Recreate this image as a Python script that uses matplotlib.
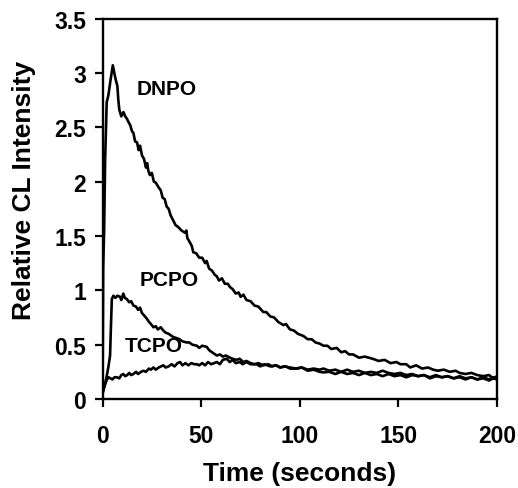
import numpy as np
import matplotlib
matplotlib.use("Agg")
import matplotlib.pyplot as plt

plt.rcParams['font.family'] = ['Liberation Sans', 'DejaVu Sans']
plt.rcParams['font.weight'] = 'bold'

# DNPO curve (time in s, relative CL intensity)
dnpo_t = [0, 0.3, 0.8, 1.3, 2.1, 3, 4, 5.2, 6.5, 7.5, 8, 8.5, 9.5, 10.6, 11.5, 12.3, 13.1, 14, 15, 15.6,
          16.5, 17.5, 18.3, 19, 20, 21, 22, 22.6, 23.2, 24, 25, 26, 27, 28.3, 29.5, 30.5, 31.5, 32.5, 33.5, 34.5,
          35.9, 37, 38.5, 40, 41.8, 42.5, 43, 44, 45.2, 46, 47.5, 49, 50.5, 52, 52.8, 54, 55.5, 57, 57.9, 59,
          60.5, 62, 63.5, 64.6, 66, 67.5, 69, 70, 71.4, 73, 75, 77, 79, 81.5, 83, 85, 87, 89, 91.7, 93,
          95, 97, 99, 101.8, 104, 106, 108, 110, 112, 114, 116, 118.7, 121, 123, 125, 127, 130, 133, 137, 140,
          143, 146, 149, 151, 154, 156, 159, 162, 165, 167.6, 170, 173, 176, 179, 181, 184, 187, 190, 193, 196,
          198, 200]
dnpo_y = [0.05, 1.2, 1.55, 2.2, 2.73, 2.8, 2.93, 3.07, 2.95, 2.88, 2.75, 2.66, 2.6, 2.64, 2.6, 2.58, 2.55, 2.52, 2.46, 2.45,
          2.37, 2.36, 2.29, 2.33, 2.24, 2.21, 2.13, 2.17, 2.1, 2.06, 2.08, 2.0, 1.99, 1.95, 1.92, 1.85, 1.84, 1.77, 1.75, 1.69,
          1.64, 1.6, 1.58, 1.55, 1.53, 1.55, 1.48, 1.45, 1.41, 1.35, 1.34, 1.3, 1.3, 1.25, 1.27, 1.2, 1.18, 1.14, 1.13, 1.09,
          1.11, 1.06, 1.06, 1.03, 1.01, 0.97, 0.98, 0.94, 0.96, 0.91, 0.9, 0.86, 0.85, 0.8, 0.8, 0.76, 0.75, 0.71, 0.68, 0.69,
          0.64, 0.63, 0.6, 0.58, 0.55, 0.55, 0.52, 0.51, 0.49, 0.49, 0.46, 0.47, 0.43, 0.44, 0.41, 0.41, 0.38, 0.39, 0.37, 0.35,
          0.36, 0.33, 0.34, 0.32, 0.32, 0.29, 0.31, 0.28, 0.29, 0.27, 0.26, 0.27, 0.25, 0.26, 0.24, 0.23, 0.24, 0.22, 0.21, 0.22,
          0.19, 0.21]

# PCPO curve
pcpo_t = [0, 1, 2, 3, 3.8, 4.3, 4.7, 5.5, 6.5, 7.5, 8.9, 9.5, 10.5, 11.3, 12.3, 13.5, 14.5, 15.6, 17, 18,
          19, 20, 21, 22.4, 23.5, 24.5, 25.8, 27, 28, 29.5, 30.8, 32, 33.5, 35, 35.9, 37.5, 39, 40.5, 42.7, 44,
          45.5, 47.8, 49, 50.5, 52.8, 54, 55.5, 57.9, 59.5, 61, 62.5, 64.6, 66, 68, 69.5, 71.4, 73, 75, 77, 79,
          81.5, 84, 86, 88, 90, 92, 95, 98, 101, 104, 107, 110, 112, 115, 118, 121, 124, 127, 130, 133,
          136, 139, 142, 145, 148, 151, 154, 157, 160, 163, 166, 169, 172, 175, 178, 181, 184, 187, 190, 193,
          196, 198, 200]
pcpo_y = [0.05, 0.12, 0.2, 0.3, 0.4, 0.7, 0.92, 0.95, 0.93, 0.95, 0.94, 0.91, 0.97, 0.93, 0.92, 0.89, 0.9, 0.86, 0.85, 0.82,
          0.84, 0.79, 0.77, 0.74, 0.71, 0.69, 0.66, 0.67, 0.64, 0.66, 0.63, 0.61, 0.6, 0.58, 0.57, 0.56, 0.55, 0.53, 0.52, 0.52,
          0.5, 0.49, 0.47, 0.49, 0.48, 0.45, 0.43, 0.4, 0.41, 0.39, 0.4, 0.38, 0.37, 0.36, 0.37, 0.34, 0.35, 0.33, 0.32, 0.33,
          0.31, 0.32, 0.3, 0.31, 0.29, 0.3, 0.29, 0.28, 0.29, 0.27, 0.28, 0.27, 0.28, 0.26, 0.27, 0.25, 0.27, 0.25, 0.26, 0.24,
          0.25, 0.24, 0.26, 0.24, 0.23, 0.24, 0.22, 0.23, 0.21, 0.22, 0.2, 0.22, 0.2, 0.21, 0.19, 0.21, 0.19, 0.2, 0.18, 0.2,
          0.18, 0.2, 0.19]

# TCPO curve
tcpo_t = [0, 1, 2, 3, 4, 5, 6, 7.2, 8.5, 9.5, 10.5, 11.5, 12.5, 13.5, 14.5, 15.6, 17, 18, 19.5, 20.7,
          22, 23.5, 24.5, 25.8, 27, 28.5, 30.8, 32, 33.5, 35, 36.5, 38, 39.3, 40.5, 42, 43.5, 45, 46.5, 47.8, 49,
          50.5, 52, 53.5, 55, 56.5, 57.9, 59.5, 61, 63, 64.5, 66, 67.5, 69.7, 71, 73, 75, 78, 80, 82, 85,
          88, 90, 93, 95, 98.5, 101, 104, 107, 110, 112, 115, 118, 121, 124, 127, 130, 133, 136, 139, 142,
          145, 148, 151, 154, 157, 160, 163, 166, 169, 172, 175, 178, 181, 184, 187, 190, 193, 196, 198, 200]
tcpo_y = [0.06, 0.12, 0.17, 0.2, 0.19, 0.18, 0.2, 0.2, 0.19, 0.22, 0.23, 0.21, 0.22, 0.24, 0.22, 0.23, 0.25, 0.23, 0.25, 0.26,
          0.25, 0.28, 0.27, 0.29, 0.27, 0.29, 0.31, 0.29, 0.3, 0.32, 0.3, 0.33, 0.34, 0.31, 0.33, 0.31, 0.33, 0.32, 0.32, 0.31,
          0.33, 0.31, 0.34, 0.32, 0.33, 0.34, 0.32, 0.36, 0.37, 0.34, 0.36, 0.33, 0.34, 0.32, 0.34, 0.32, 0.32, 0.3, 0.32, 0.3,
          0.31, 0.29, 0.3, 0.28, 0.28, 0.29, 0.26, 0.27, 0.25, 0.245, 0.25, 0.23, 0.25, 0.23, 0.24, 0.22, 0.24, 0.22, 0.23, 0.21,
          0.23, 0.21, 0.22, 0.2, 0.22, 0.21, 0.22, 0.19, 0.21, 0.2, 0.21, 0.19, 0.2, 0.18, 0.2, 0.18, 0.19, 0.17, 0.19, 0.18]

fig = plt.figure(figsize=(5.18, 4.89), dpi=100)
ax = fig.add_axes((0.198, 0.182, 0.7615, 0.778))

for t, y in [(dnpo_t, dnpo_y), (pcpo_t, pcpo_y), (tcpo_t, tcpo_y)]:
    ax.plot(t, y, color="black", linewidth=1.9)

# curve labels
ax.text(32.7, 2.86, "DNPO", fontsize=15, fontweight="bold", ha="center", va="center")
ax.text(33.7, 1.10, "PCPO", fontsize=15, fontweight="bold", ha="center", va="center")
ax.text(25.9, 0.49, "TCPO", fontsize=15, fontweight="bold", ha="center", va="center")

ax.set_xlim(0, 200)
ax.set_ylim(0, 3.5)
ax.set_xticks([0, 50, 100, 150, 200])
ax.set_yticks([0, 0.5, 1, 1.5, 2, 2.5, 3, 3.5])
ax.set_yticklabels(["0", "0.5", "1", "1.5", "2", "2.5", "3", "3.5"])
ax.tick_params(direction="out", length=6, width=1.6, labelsize=16.5, pad=6)
ax.tick_params(axis="x", pad=12)
for s in ax.spines.values():
    s.set_linewidth(1.7)

ax.set_xlabel("Time (seconds)", fontsize=19, fontweight="bold", labelpad=10)
ax.set_ylabel("Relative CL Intensity", fontsize=19, fontweight="bold")
ax.yaxis.set_label_coords(-0.17, 0.55)

fig.savefig("out.png", dpi=100)
